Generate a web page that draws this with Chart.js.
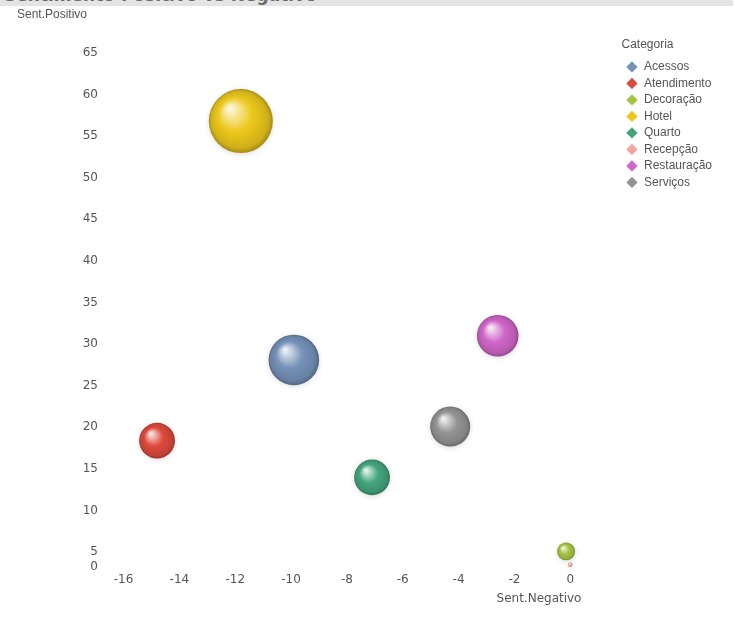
<!DOCTYPE html>
<html>
<head>
<meta charset="utf-8">
<script src="https://cdn.jsdelivr.net/npm/chart.js@4.4.1/dist/chart.umd.min.js"></script>
<style>
  html, body { margin: 0; padding: 0; background: #fff; }
  #wrap { position: relative; width: 735px; height: 635px; }
  #bar {
    position: absolute; left: 0; top: 0; width: 733px; height: 6px;
    background: #e4e4e4; overflow: hidden;
  }
  #bar span {
    position: absolute; left: 4px; top: -15px; white-space: nowrap;
    font: bold 17px "DejaVu Sans", sans-serif; color: #6a6a6a;
  }
  canvas { position: absolute; left: 0; top: 0; }
</style>
</head>
<body>
<div id="wrap">
  <canvas id="myChart" width="735" height="635"></canvas>
  <div id="bar"><span>Sentimento Positivo vs Negativo</span></div>
</div>
<script>
const categorias = ['Acessos', 'Atendimento', 'Decoração', 'Hotel', 'Quarto', 'Recepção', 'Restauração', 'Serviços'];
const sentNegativo = [-9.9, -14.8, -0.15, -11.8, -7.1, 0, -2.6, -4.3];
const sentPositivo = [28.1, 18.4, 5.1, 56.8, 14.0, 3.5, 31.0, 20.1];
const mencoes = [40, 20, 5, 64, 20, 0.3, 27, 25];
const cores = ['#7592b8', '#dc4a3c', '#a2c43e', '#ecc81c', '#44a57d', '#f2a69a', '#d066c9', '#939393'];

const yMin = 3.2; // bottom of the axis, Qlik labels it "0"

// lighten / darken a hex colour
function shade(hex, amt) {
    const n = parseInt(hex.slice(1), 16);
    let r = n >> 16, g = (n >> 8) & 255, b = n & 255;
    if (amt > 0) {
        r = r + (255 - r) * amt; g = g + (255 - g) * amt; b = b + (255 - b) * amt;
    } else {
        r = r * (1 + amt); g = g * (1 + amt); b = b * (1 + amt);
    }
    return 'rgb(' + Math.round(r) + ',' + Math.round(g) + ',' + Math.round(b) + ')';
}

// radial gradient so the bubbles look like spheres
function sphere(i) {
    return function (c) {
        const chart = c.chart;
        const raw = c.raw;
        if (!raw || !chart.scales.x || !chart.scales.y) return cores[i];
        const x = chart.scales.x.getPixelForValue(raw.x);
        const y = chart.scales.y.getPixelForValue(raw.y);
        if (!isFinite(x) || !isFinite(y)) return cores[i];
        const r = Math.max(raw.r, 1);
        const g = chart.ctx.createRadialGradient(x - r * 0.35, y - r * 0.4, r * 0.05, x, y, r);
        g.addColorStop(0, shade(cores[i], 0.85));
        g.addColorStop(0.5, cores[i]);
        g.addColorStop(0.88, shade(cores[i], -0.12));
        g.addColorStop(1, shade(cores[i], -0.3));
        return g;
    };
}

const datasets = categorias.map((nome, i) => ({
    label: nome,
    data: [{ x: sentNegativo[i], y: sentPositivo[i], r: 4 * Math.sqrt(mencoes[i]) }],
    backgroundColor: sphere(i),
    borderWidth: 0,
    hoverBorderWidth: 0,
    clip: false
}));

const shadow = {
    id: 'shadow',
    beforeDatasetsDraw(chart) {
        const ctx = chart.ctx;
        ctx.save();
        ctx.shadowColor = 'rgba(0,0,0,0.15)';
        ctx.shadowBlur = 5;
        ctx.shadowOffsetY = 1;
    },
    afterDatasetsDraw(chart) {
        chart.ctx.restore();
    }
};

const ctx = document.getElementById('myChart').getContext('2d');

new Chart(ctx, {
    type: 'bubble',
    data: { datasets: datasets },
    plugins: [shadow],
    options: {
        responsive: false,
        animation: false,
        layout: { padding: { left: 17, right: 13, top: 0, bottom: 25 } },
        font: { family: '"DejaVu Sans", sans-serif', size: 12 },
        plugins: {
            title: {
                display: true,
                text: 'Sent.Positivo',
                align: 'start',
                color: '#555',
                font: { size: 12, weight: 'normal' },
                padding: { top: 7, bottom: 10.6 }
            },
            legend: {
                position: 'right',
                align: 'start',
                title: {
                    display: true,
                    text: 'Categoria',
                    position: 'start',
                    color: '#555',
                    font: { size: 12 },
                    padding: { top: 39, bottom: 3 }
                },
                labels: {
                    usePointStyle: true,
                    pointStyle: 'rectRot',
                    boxHeight: 8,
                    padding: 4.5,
                    color: '#444',
                    font: { size: 12 },
                    generateLabels: chart => chart.data.datasets.map((ds, i) => ({
                        text: ds.label,
                        fillStyle: cores[i],
                        strokeStyle: cores[i],
                        lineWidth: 0,
                        pointStyle: 'rectRot',
                        hidden: false,
                        datasetIndex: i
                    }))
                }
            },
            tooltip: { enabled: false }
        },
        scales: {
            x: {
                type: 'linear',
                min: -16.7,
                max: 0.4,
                grid: { display: false, drawTicks: false },
                border: { display: false },
                ticks: {
                    stepSize: 2,
                    includeBounds: false,
                    padding: 5,
                    color: '#555',
                    font: { size: 12 }
                },
                title: {
                    display: true,
                    text: 'Sent.Negativo',
                    align: 'end',
                    color: '#555',
                    font: { size: 12 },
                    padding: { top: 0, bottom: 4 }
                }
            },
            y: {
                type: 'linear',
                min: yMin,
                max: 67.5,
                grid: { display: false, drawTicks: false },
                border: { display: false },
                ticks: {
                    stepSize: 5,
                    includeBounds: false,
                    padding: 6,
                    color: '#555',
                    font: { size: 12 },
                    callback: v => (v === yMin ? '0' : v)
                },
                afterBuildTicks: s => { s.ticks.unshift({ value: yMin }); },
                afterFit: s => { s.width = 87; }
            },
            gap: {
                type: 'linear',
                position: 'right',
                display: true,
                grid: { display: false, drawTicks: false },
                border: { display: false },
                ticks: { display: false },
                afterFit: s => { s.width = 40; }
            }
        }
    }
});
</script>
</body>
</html>
